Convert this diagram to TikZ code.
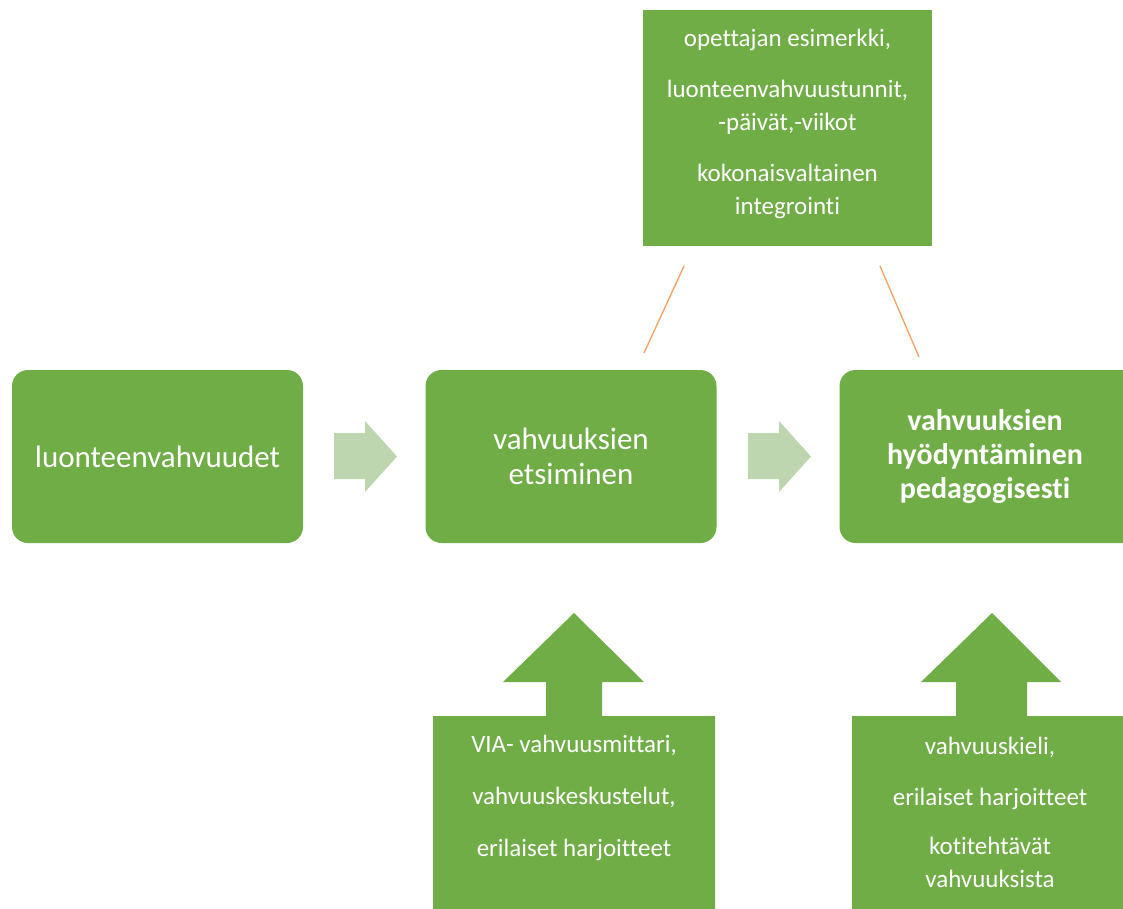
\documentclass[tikz,border=0pt]{standalone}
\usepackage{fontspec}
\setmainfont{Carlito}[Ligatures=NoCommon]
\definecolor{grn}{HTML}{70AD47}
\definecolor{lgrn}{HTML}{BDD6B0}
\definecolor{org}{HTML}{F5A46C}
\begin{document}
\begin{tikzpicture}[x=1pt,y=-1pt,
  bigbox/.style={fill=grn, rounded corners=16pt, text=white, align=center,
    minimum width=291pt, minimum height=173pt, inner sep=0pt,
    font=\fontsize{31}{35}\selectfont},
  topbox/.style={fill=grn, minimum width=289pt, minimum height=236pt, inner sep=0pt},
  smalltext/.style={text=white, align=center, inner sep=0pt, font=\fontsize{25}{33}\selectfont},
  flowarrow/.style={fill=lgrn},
  uparrow/.style={fill=grn},
  linkline/.style={draw=org, line width=1.4pt}
]
\useasboundingbox (0,0) rectangle (1123,909);
\clip (0,0) rectangle (1123,909);

% main boxes
\node[bigbox] (b1) at (157.5,456.5) {luonteenvahvuudet};
\node[bigbox] (b2) at (571,456.5) {vahvuuksien\\etsiminen};
\node[bigbox, minimum width=300pt, font=\bfseries\fontsize{30}{34}\selectfont] (b3) at (989.5,456.5) {};
\node[text=white, align=center, inner sep=0pt, font=\bfseries\fontsize{30}{34}\selectfont] (b3text) at (985,456.5) {vahvuuksien\\hyödyntäminen\\pedagogisesti};

% top box
\node[topbox] (top) at (787.5,128) {};
\node[smalltext] (toptext) at (787.5,124) {opettajan esimerkki,\\[18pt]luonteenvahvuustunnit,\\-päivät,-viikot\\[18pt]kokonaisvaltainen\\integrointi};

% orange lines
\coordinate (l1a) at (684,266);
\coordinate (l1b) at (644,353);
\coordinate (l2a) at (880,266);
\coordinate (l2b) at (919,357);
\draw[linkline] (l1a) -- (l1b);
\draw[linkline] (l2a) -- (l2b);

% light flow arrows
\fill[flowarrow] (334,433) -- (365,433) -- (365,421) -- (397,456.5) -- (365,492) -- (365,479) -- (334,479) -- cycle;
\fill[flowarrow] (748,433) -- (779,433) -- (779,421) -- (811,456.5) -- (779,492) -- (779,479) -- (748,479) -- cycle;

% bottom arrow boxes
\fill[uparrow] (433,920) -- (433,716) -- (546,716) -- (546,682) -- (503,682) -- (574,613) -- (644,682) -- (602,682) -- (602,716) -- (715,716) -- (715,920) -- cycle;
\node[smalltext] (btxtA) at (574,797.5) {VIA- vahvuusmittari,\\[19pt]vahvuuskeskustelut,\\[19pt]erilaiset harjoitteet};

\fill[uparrow] (852,920) -- (852,716) -- (956,716) -- (956,682) -- (921,682) -- (992,613) -- (1061,682) -- (1027,682) -- (1027,716) -- (1140,716) -- (1140,920) -- cycle;
\node[smalltext] (btxtB) at (990,812) {vahvuuskieli,\\[18pt]erilaiset harjoitteet\\[16pt]kotitehtävät\\vahvuuksista};
\end{tikzpicture}
\end{document}
